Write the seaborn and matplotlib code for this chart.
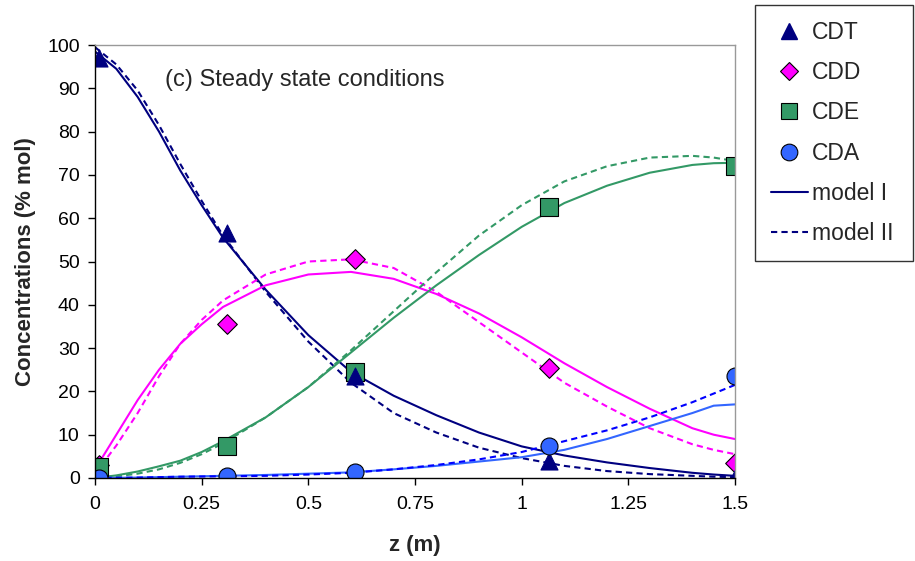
import numpy as np
import pandas as pd
import matplotlib
matplotlib.use("Agg")
import matplotlib.pyplot as plt
import seaborn as sns
from matplotlib.lines import Line2D

# ---- data ----
z_exp = [0.01, 0.31, 0.61, 1.065, 1.5]
cdt_exp = [97, 56.5, 23.5, 4, 0]
cdd_exp = [3, 35.5, 50.5, 25.5, 3.5]
cde_exp = [2.5, 7.5, 24.5, 62.5, 72]
cda_exp = [0, 0.5, 1.5, 7.5, 23.5]

z_mod = [0, 0.05, 0.1, 0.15, 0.2, 0.25, 0.3, 0.4, 0.5, 0.6, 0.7, 0.8, 0.9, 1.0, 1.1, 1.2, 1.3, 1.4, 1.45, 1.5]
cdt_m1 = [98.5, 94.5, 88, 80, 71, 63, 55.5, 43.5, 33, 24.5, 19, 14.5, 10.5, 7.3, 5.2, 3.6, 2.3, 1.2, 0.8, 0.5]
cdt_m2 = [99.5, 95.5, 89.5, 81.5, 72.5, 64, 56, 43, 31.5, 22, 15, 10.5, 7, 4.6, 2.8, 1.6, 0.9, 0.5, 0.3, 0.2]
cdd_m1 = [2, 10, 18, 25, 31, 35.5, 39.5, 44.5, 47, 47.6, 46, 42.5, 38, 32.5, 26.5, 21, 16, 11.5, 10, 9]
cdd_m2 = [1, 7.5, 15, 23.5, 31, 36.5, 41, 47, 50, 50.5, 48.5, 43, 36, 29, 22, 16.5, 11.5, 7.8, 6.5, 5.5]
cde_m1 = [0, 0.6, 1.5, 2.7, 4, 6, 8.5, 14, 21, 29, 37, 44.5, 51.5, 58, 63.5, 67.5, 70.5, 72.3, 72.7, 72.8]
cde_m2 = [0, 0.4, 1, 2, 3.5, 5.5, 8, 14, 21, 29.5, 38.5, 47.5, 56, 63, 68.5, 72, 74, 74.4, 74, 73.2]
cda_m1 = [0, 0.05, 0.1, 0.2, 0.3, 0.4, 0.5, 0.7, 1.0, 1.3, 2, 2.8, 3.8, 4.8, 6.5, 9, 12, 15, 16.7, 17]
cda_m2 = [0, 0.05, 0.1, 0.2, 0.3, 0.35, 0.4, 0.5, 0.8, 1.2, 2, 3, 4.3, 6, 8.5, 11, 14, 17.5, 19.5, 21.5]

x_ticks = [0, 0.25, 0.5, 0.75, 1, 1.25, 1.5]
x_ticklabels = ["0", "0.25", "0.5", "0.75", "1", "1.25", "1.5"]
y_ticks = [0, 10, 20, 30, 40, 50, 60, 70, 80, 90, 100]
labels = ["CDT", "CDD", "CDE", "CDA", "model I", "model II"]

sns.set_style("white")
plt.rcParams['font.family'] = ['Liberation Sans', 'DejaVu Sans']

fig = plt.figure(figsize=(9.15, 5.61), dpi=100)
ax = fig.add_axes([95/915, 1-478/561, (735-95)/915, (478-45)/561])

navy = "#000080"
mag = "#FF00FF"
green = "#339966"
blue_l = "#3366FF"
blue_d = "#0000FF"

lw = 1.5
dash = (3, 2)
series = [
    (cdt_m1, cdt_m2, navy, navy),
    (cdd_m1, cdd_m2, mag, mag),
    (cde_m1, cde_m2, green, green),
    (cda_m1, cda_m2, blue_l, blue_d),
]
for m1, m2, c1, c2 in series:
    sns.lineplot(x=z_mod, y=m1, ax=ax, color=c1, lw=lw, estimator=None, sort=False)
    l = sns.lineplot(x=z_mod, y=m2, ax=ax, color=c2, lw=lw, estimator=None, sort=False)
    l.lines[-1].set_dashes(dash)

ms = 150
sns.scatterplot(x=z_exp, y=cdd_exp, ax=ax, marker="D", s=100, color=mag, edgecolor="black", linewidth=0.8, zorder=5)
sns.scatterplot(x=z_exp, y=cde_exp, ax=ax, marker="s", s=ms, color=green, edgecolor="black", linewidth=0.8, zorder=5)
sns.scatterplot(x=z_exp, y=cdt_exp, ax=ax, marker="^", s=ms, color=navy, edgecolor=navy, linewidth=0.8, zorder=6)
sns.scatterplot(x=z_exp, y=cda_exp, ax=ax, marker="o", s=ms, color=blue_l, edgecolor="black", linewidth=0.8, zorder=7)

ax.set_xlim(0, 1.5)
ax.set_ylim(0, 100)
ax.set_xticks(x_ticks)
ax.set_xticklabels(x_ticklabels)
ax.set_yticks(y_ticks)
ax.tick_params(axis="both", labelsize=14, direction="out", length=5, width=1, colors="black", bottom=True, left=True)
ax.tick_params(axis="x", pad=8)
ax.tick_params(axis="y", pad=6)
for s in ["left", "bottom"]:
    ax.spines[s].set_color("black")
    ax.spines[s].set_linewidth(1)
for s in ["top", "right"]:
    ax.spines[s].set_color("#999999")
    ax.spines[s].set_linewidth(1)
for s in ax.spines.values():
    s.set_visible(True)
    s.set_zorder(10)

ax.set_xlabel("z (m)", fontsize=16, fontweight="bold", labelpad=16)
ax.set_ylabel("Concentrations (% mol)", fontsize=16, fontweight="bold", labelpad=8)
ax.text(70/640, 1-35/433, "(c) Steady state conditions", transform=ax.transAxes, fontsize=17, va="center", ha="left")

handles = [
    Line2D([], [], ls="none", marker="^", ms=12, color=navy, mec=navy),
    Line2D([], [], ls="none", marker="D", ms=9, color=mag, mec="black", mew=0.8),
    Line2D([], [], ls="none", marker="s", ms=11, color=green, mec="black", mew=0.8),
    Line2D([], [], ls="none", marker="o", ms=12, color=blue_l, mec="black", mew=0.8),
    Line2D([], [], color=navy, lw=lw),
    Line2D([], [], color=navy, lw=lw, dashes=dash),
]
leg = fig.legend(handles, labels, loc="upper left",
                 bbox_to_anchor=(755/915, 1-262/561, 158/915, 257/561), mode="expand",
                 borderaxespad=0, fontsize=16.5, frameon=True, fancybox=False, edgecolor="black",
                 labelspacing=0.75, handlelength=1.6, handletextpad=0.2, borderpad=0.7)
leg.get_frame().set_linewidth(1)

fig.savefig("out.png", dpi=100)
